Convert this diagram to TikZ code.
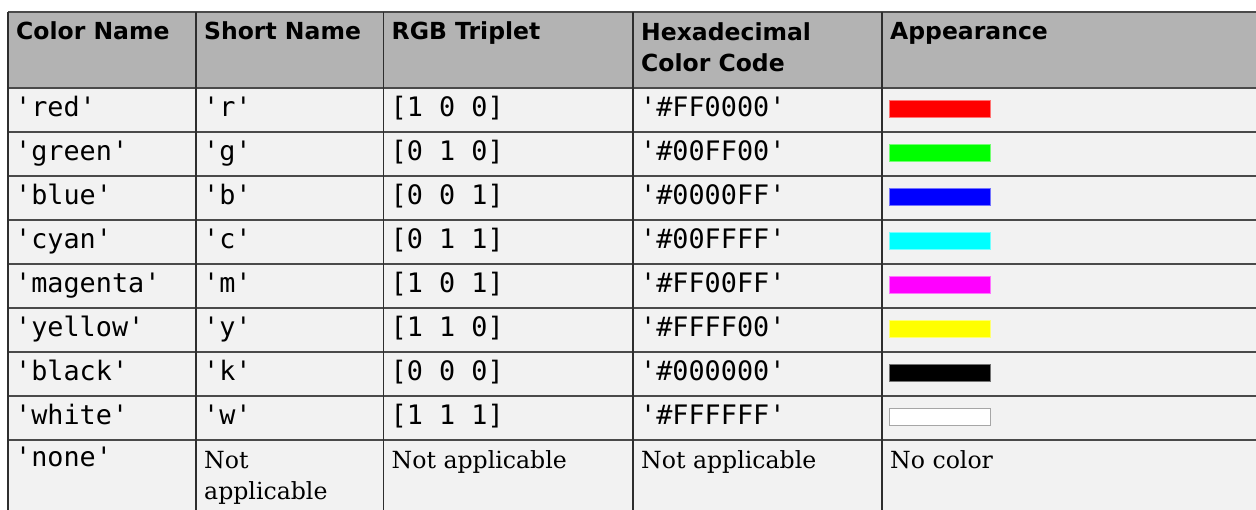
\documentclass[tikz,border=0pt]{standalone}
\usepackage{fontspec}
\setmainfont{DejaVu Serif}
\setsansfont{DejaVu Sans}
\setmonofont{DejaVu Sans Mono}
\definecolor{hdrfill}{HTML}{B3B3B3}
\definecolor{bodyfill}{HTML}{F2F2F2}
\definecolor{rule}{HTML}{4A4A4A}
\definecolor{vrule}{HTML}{2E2E2E}
\definecolor{cred}{HTML}{FF0000}
\definecolor{cgreen}{HTML}{00FF00}
\definecolor{cblue}{HTML}{0000FF}
\definecolor{ccyan}{HTML}{00FFFF}
\definecolor{cmagenta}{HTML}{FF00FF}
\definecolor{cyellow}{HTML}{FFFF00}
\definecolor{cblack}{HTML}{000000}
\definecolor{cwhite}{HTML}{FFFFFF}
\begin{document}
\begin{tikzpicture}[x=1pt,y=-1pt,
  hdr/.style={anchor=base west, inner sep=0pt, font=\sffamily\bfseries\fontsize{23.5}{30}\selectfont},
  mono/.style={anchor=base west, inner sep=0pt, font=\ttfamily\fontsize{26.8}{30}\selectfont},
  serif/.style={anchor=base west, inner sep=0pt, font=\rmfamily\fontsize{23.6}{30}\selectfont},
  hline/.style={draw=rule, line width=2pt},
  vline/.style={draw=vrule, line width=1.5pt},
  swatch/.style={line width=0.8pt}]
\useasboundingbox (0,0) rectangle (1256,510);
\fill[white] (0,0) rectangle (1256,510);
\fill[hdrfill] (8,12) rectangle (1256,88);
\fill[bodyfill] (8,88) rectangle (1256,510);
% header
\node[hdr] (h1) at (16,40) {Color Name};
\node[hdr] (h2) at (204,40) {Short Name};
\node[hdr] (h3) at (391.5,40) {RGB Triplet};
\node[hdr] (h4a) at (641,41) {Hexadecimal};
\node[hdr] (h4b) at (641,72) {Color Code};
\node[hdr] (h5) at (890,40) {Appearance};
% body rows
\foreach \i/\cn/\sn/\rgb/\hex/\col in {
  0/red/r/1 0 0/FF0000/cred,
  1/green/g/0 1 0/00FF00/cgreen,
  2/blue/b/0 0 1/0000FF/cblue,
  3/cyan/c/0 1 1/00FFFF/ccyan,
  4/magenta/m/1 0 1/FF00FF/cmagenta,
  5/yellow/y/1 1 0/FFFF00/cyellow,
  6/black/k/0 0 0/000000/cblack,
  7/white/w/1 1 1/FFFFFF/cwhite}
{
  \pgfmathsetmacro\rtop{88+44*\i}
  \node[mono] (cn\i) at (15,\rtop+28.5) {'\cn'};
  \node[mono] (sn\i) at (203,\rtop+28.5) {'\sn'};
  \node[mono] (rgb\i) at (390.5,\rtop+28.5) {[\rgb]};
  \node[mono] (hex\i) at (640,\rtop+28.5) {'\#\hex'};
  \filldraw[swatch, fill=\col, draw=\col!55!white] (889,\rtop+12) rectangle (990,\rtop+29);
}
\draw[line width=0.8pt, draw=black!35] (889,408) rectangle (990,425);
% last row
\node[mono] (cn8) at (15,467) {'none'};
\node[serif] (sn8a) at (204,468) {Not};
\node[serif] (sn8b) at (204,499) {applicable};
\node[serif] (rgb8) at (391.5,468) {Not applicable};
\node[serif] (hex8) at (641,468) {Not applicable};
\node[serif] (app8) at (890,468) {No color};
% rules
\foreach \yy in {88,132,176,220,264,308,352,396,440}
  \draw[hline] (8,\yy) -- (1256,\yy);
\draw[hline] (8,12) -- (1256,12);
\foreach \xx in {8,196,383.5,633,882}
  \draw[vline] (\xx,12) -- (\xx,510);
\end{tikzpicture}
\end{document}
